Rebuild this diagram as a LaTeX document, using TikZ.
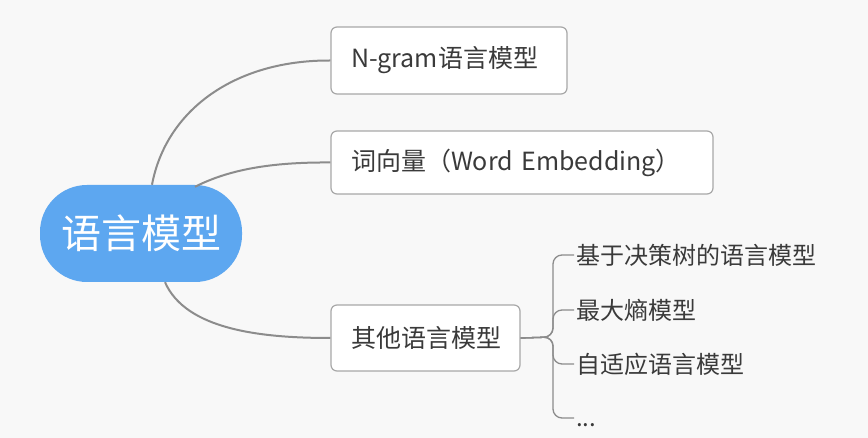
\documentclass[tikz,border=0pt]{standalone}
\usepackage{fontspec}
\setmainfont{Noto Sans CJK SC}
\usetikzlibrary{calc}
\definecolor{bg}{HTML}{F8F8F8}
\definecolor{rootblue}{HTML}{5DA7F0}
\definecolor{boxline}{HTML}{A8A8A8}
\definecolor{linkc}{HTML}{8C8C8C}
\definecolor{txt}{HTML}{3A3A3A}
\tikzset{
  rootnode/.style={fill=rootblue, draw=none, rounded corners=47pt, minimum width=202pt, minimum height=97pt, text=white, font=\fontsize{40}{44}\selectfont, inner sep=0pt},
  topicbox/.style={fill=white, draw=boxline, line width=1.2pt, rounded corners=6pt, text=txt, font=\fontsize{25}{29}\selectfont, inner xsep=20pt, inner ysep=0pt, align=left},
  subitem/.style={anchor=west, text=txt, font=\fontsize{24}{28}\selectfont, inner sep=2pt},
  link/.style={draw=linkc, line width=2pt},
  bracelink/.style={draw=linkc, line width=1.3pt, rounded corners=9pt}
}
\begin{document}
\begin{tikzpicture}[x=1pt,y=-1pt]
\fill[bg] (0,0) rectangle (868,438);
\useasboundingbox (0,0) rectangle (868,438);

\node[rootnode] (root) at (141,233.5) {语言模型};
\node[topicbox, text width=196pt, minimum height=67pt] (b1) at (449,60.5) {N-gram语言模型};
\node[topicbox, text width=342pt, minimum height=63pt] (b2) at (522,162.5) {词向量（Word Embedding）};
\node[topicbox, text width=149pt, minimum height=66pt] (b3) at (425.5,338) {其他语言模型};

\coordinate (r1) at ([xshift=11pt]root.north);
\coordinate (r2) at ([xshift=54pt,yshift=-2pt]root.north);
\coordinate (r3) at ([xshift=24pt]root.south);

\draw[link] (r1) .. controls (166,110) and (235,60) .. (b1.west);
\draw[link] (r2) .. controls (228,170) and (270,162) .. (b2.west);
\draw[link] (r3) .. controls (186,330) and (262,338) .. (b3.west);

\node[subitem] (i1) at (574,255) {基于决策树的语言模型};
\node[subitem] (i2) at (574,310) {最大熵模型};
\node[subitem] (i3) at (574,364) {自适应语言模型};
\node[subitem] (i4) at (574,425) {...};

\coordinate (jn) at (553,337);
\coordinate (i4e) at ([yshift=7pt]i4.west);
\draw[bracelink] (b3.east) -- (jn) -- (jn |- i1.west) -- (i1.west);
\draw[bracelink] (b3.east) -- (jn) -- (jn |- i2.west) -- (i2.west);
\draw[bracelink] (b3.east) -- (jn) -- (jn |- i3.west) -- (i3.west);
\draw[bracelink] (b3.east) -- (jn) -- (jn |- i4e) -- (i4e);
\end{tikzpicture}
\end{document}
